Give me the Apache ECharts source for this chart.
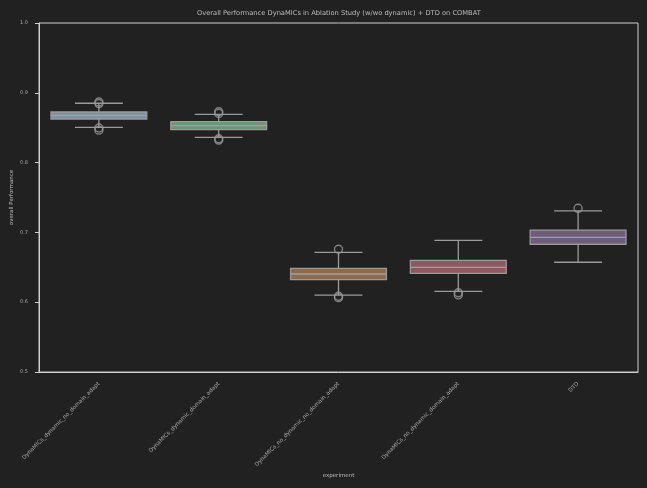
<!DOCTYPE html>
<html><head><meta charset="utf-8">
<script src="https://cdn.jsdelivr.net/npm/echarts@6/dist/echarts.min.js"></script>
<style>html,body{margin:0;padding:0;background:#212121}#c{width:647px;height:488px}</style>
</head><body><div id="c"></div>
<script>
const categories = ['DynaMICs_dynamic_no_domain_adapt','DynaMICs_dynamic_domain_adapt','DynaMICs_no_dynamic_no_domain_adapt','DynaMICs_no_dynamic_domain_adapt','DTD'];
const whiskerLow  = [0.8506, 0.8362, 0.6100, 0.6156, 0.6572];
const q1          = [0.8625, 0.8471, 0.6322, 0.6414, 0.6830];
const median      = [0.8675, 0.8529, 0.6404, 0.6500, 0.6930];
const q3          = [0.8725, 0.8586, 0.6486, 0.6600, 0.7034];
const whiskerHigh = [0.8850, 0.8692, 0.6715, 0.6887, 0.7307];
const outliers = [
  [0.8868, 0.8845, 0.8496, 0.8465],
  [0.8729, 0.8705, 0.8342, 0.8322],
  [0.6758, 0.6085, 0.6065],
  [0.6136, 0.6105],
  [0.7345]
];
const boxColors = ['#7590a9', '#6f9672', '#8c6a4d', '#8a5a5e', '#6d5c7c'];
const yTicks = [0.5, 0.6, 0.7, 0.8, 0.9, 1.0];

const boxData = categories.map((c, i) => [i, whiskerLow[i], q1[i], median[i], q3[i], whiskerHigh[i]]);
const outlierData = [];
outliers.forEach((arr, i) => arr.forEach(v => outlierData.push([i, v])));

const chart = echarts.init(document.getElementById('c'));
const lineCol = '#9a9a9a';
chart.setOption({
  backgroundColor: '#212121',
  animation: false,
  title: {text: 'Overall Performance DynaMICs in Ablation Study (w/wo dynamic) + DTD on COMBAT', left: 197, top: 9, padding: 0,
    textStyle: {color: '#bdbdbd', fontSize: 6.7, fontWeight: 'normal', fontFamily: 'DejaVu Sans', lineHeight: 8}},
  grid: {left: 39, right: 9, top: 23, bottom: 116, show: true, borderColor: '#cfcfcf', borderWidth: 1,
    containLabel: false, outerBoundsMode: 'none'},
  xAxis: {type: 'category', data: categories, boundaryGap: true,
    name: 'experiment', nameLocation: 'middle', nameGap: 101, nameMoveOverlap: false,
    nameTextStyle: {color: '#bdbdbd', fontSize: 5.5, fontFamily: 'DejaVu Sans'},
    axisLine: {lineStyle: {color: '#cfcfcf'}},
    axisTick: {alignWithLabel: true, length: 4, lineStyle: {color: '#cfcfcf'}},
    axisLabel: {rotate: 45, color: '#a8a8a8', fontSize: 5.6, margin: 11, fontFamily: 'DejaVu Sans'},
    splitLine: {show: false}},
  yAxis: {type: 'value', min: 0.5, max: 1.0, interval: 0.1,
    name: 'overall Performance', nameLocation: 'middle', nameGap: 24, nameMoveOverlap: false,
    nameTextStyle: {color: '#bdbdbd', fontSize: 5.5, fontFamily: 'DejaVu Sans'},
    axisLine: {show: true, lineStyle: {color: '#cfcfcf'}},
    axisTick: {show: true, length: 4, lineStyle: {color: '#cfcfcf'}},
    axisLabel: {color: '#a8a8a8', fontSize: 5, margin: 11, fontFamily: 'DejaVu Sans',
      formatter: v => { const t = yTicks.find(x => Math.abs(x - v) < 1e-9); return t !== undefined ? t.toFixed(1) : ''; }},
    splitLine: {show: false}},
  series: [
    {type: 'custom', data: boxData, z: 3,
      renderItem: function (params, api) {
        const i = api.value(0);
        const lo = api.coord([i, api.value(1)]);
        const p1 = api.coord([i, api.value(2)]);
        const pm = api.coord([i, api.value(3)]);
        const p3 = api.coord([i, api.value(4)]);
        const hi = api.coord([i, api.value(5)]);
        const bw = api.size([1, 0])[0] * 0.8;
        const cw = bw / 2;
        const x = lo[0];
        const ls = {stroke: lineCol, lineWidth: 1.3};
        return {type: 'group', children: [
          {type: 'line', shape: {x1: x, y1: lo[1], x2: x, y2: p1[1]}, style: ls},
          {type: 'line', shape: {x1: x, y1: p3[1], x2: x, y2: hi[1]}, style: ls},
          {type: 'line', shape: {x1: x - cw / 2, y1: lo[1], x2: x + cw / 2, y2: lo[1]}, style: ls},
          {type: 'line', shape: {x1: x - cw / 2, y1: hi[1], x2: x + cw / 2, y2: hi[1]}, style: ls},
          {type: 'rect', shape: {x: x - bw / 2, y: p3[1], width: bw, height: p1[1] - p3[1]},
            style: {fill: boxColors[params.dataIndex], stroke: lineCol, lineWidth: 1.3}},
          {type: 'line', shape: {x1: x - bw / 2, y1: pm[1], x2: x + bw / 2, y2: pm[1]}, style: {stroke: '#a0a0a0', lineWidth: 1.3}}
        ]};
      }},
    {type: 'scatter', data: outlierData, symbol: 'circle', symbolSize: 8, z: 4,
      itemStyle: {color: 'rgba(0,0,0,0)', borderColor: lineCol, borderWidth: 1.4}}
  ]
});
</script></body></html>
